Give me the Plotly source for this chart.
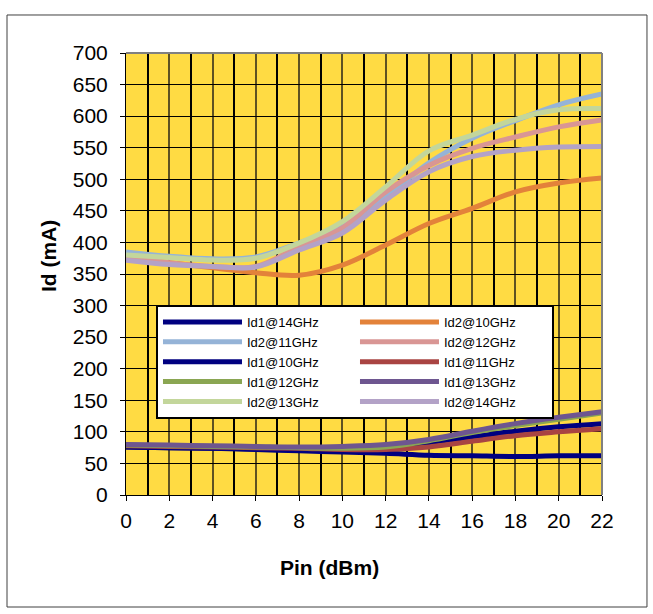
import plotly.graph_objects as go

pin = [0, 2, 4, 6, 8, 10, 12, 14, 16, 18, 20, 22]

id1_14 = [76, 75, 74, 72, 70, 68, 66, 63, 62, 61, 62, 62]
id2_10 = [376, 368, 360, 352, 348, 364, 396, 430, 454, 480, 494, 502]
id2_11 = [385, 378, 374, 377, 399, 425, 472, 526, 565, 593, 618, 635]
id2_12 = [377, 368, 362, 362, 393, 423, 480, 522, 549, 567, 583, 594]
id1_10 = [76, 75, 74, 73, 72, 70, 73, 83, 92, 101, 108, 113]
id1_11 = [78, 77, 76, 75, 74, 72, 72, 76, 85, 94, 100, 105]
id1_12 = [79, 78, 77, 76, 75, 74, 76, 86, 99, 110, 120, 130]
id1_13 = [80, 79, 78, 77, 76, 77, 80, 88, 101, 113, 123, 132]
id2_13 = [380, 376, 372, 375, 399, 433, 488, 545, 570, 595, 610, 612]
id2_14 = [372, 365, 362, 361, 388, 415, 467, 512, 536, 546, 551, 552]

series = [
    ("Id1@14GHz", id1_14, "#000080"),
    ("Id2@10GHz", id2_10, "#E3823A"),
    ("Id2@11GHz", id2_11, "#95B3D7"),
    ("Id2@12GHz", id2_12, "#D99694"),
    ("Id1@10GHz", id1_10, "#000080"),
    ("Id1@11GHz", id1_11, "#A94442"),
    ("Id1@12GHz", id1_12, "#8AA652"),
    ("Id1@13GHz", id1_13, "#6E5690"),
    ("Id2@13GHz", id2_13, "#C3D69B"),
    ("Id2@14GHz", id2_14, "#B3A2C7"),
]

fig = go.Figure()
for name, vals, col in series:
    fig.add_trace(go.Scatter(
        x=pin, y=vals, name=name, mode="lines",
        line=dict(color=col, width=5, shape="spline", smoothing=1.0),
    ))

fig.update_layout(
    width=653, height=614,
    margin=dict(l=126, r=51, t=53, b=119),
    paper_bgcolor="white",
    plot_bgcolor="#FFDB43",
    font=dict(family="Liberation Sans, Arial", color="black"),
    showlegend=True,
    legend=dict(
        orientation="h",
        x=0.063, y=0.43, xanchor="left", yanchor="top",
        bgcolor="white", bordercolor="black", borderwidth=2,
        font=dict(size=13, family="Liberation Sans, Arial"),
        itemwidth=79,
        entrywidth=103, entrywidthmode="pixels",
    ),
)

fig.update_xaxes(
    range=[0, 22], dtick=2, tick0=0,
    showgrid=True, gridcolor="#5E5222", gridwidth=2,
    minor=dict(dtick=1, tick0=0, showgrid=True, gridcolor="black", gridwidth=2, ticks=""),
    showline=True, linecolor="black", linewidth=1,
    ticks="outside", ticklen=5, tickcolor="black",
    tickfont=dict(size=21), ticklabelstandoff=2,
    zeroline=False,
)
fig.update_yaxes(
    range=[0, 700], dtick=50, tick0=0,
    showgrid=True, gridcolor="black", gridwidth=1,
    showline=True, linecolor="black", linewidth=1,
    ticks="outside", ticklen=5, tickcolor="black",
    tickfont=dict(size=21), ticklabelstandoff=8,
    zeroline=False,
)

# axis titles
fig.add_annotation(text="<b>Pin (dBm)</b>", xref="paper", yref="paper",
                   x=0.4275, y=-0.1629, xanchor="center", yanchor="middle",
                   showarrow=False, font=dict(size=21))
fig.add_annotation(text="<b>Id (mA)</b>", xref="paper", yref="paper",
                   x=-0.1639, y=0.5407, xanchor="center", yanchor="middle",
                   textangle=-90, showarrow=False, font=dict(size=21))

# plot-area top/right border and outer chart frame
fig.add_shape(type="line", xref="paper", yref="paper", x0=0, x1=1, y0=1, y1=1,
              line=dict(color="#808080", width=2))
fig.add_shape(type="line", xref="paper", yref="paper", x0=1, x1=1, y0=0, y1=1,
              line=dict(color="#808080", width=2))
fig.add_shape(type="rect", xref="paper", yref="paper",
              x0=-0.25, x1=1.0945, y0=-0.2534, y1=1.086,
              line=dict(color="#404040", width=1))

fig.write_html("out.html")
